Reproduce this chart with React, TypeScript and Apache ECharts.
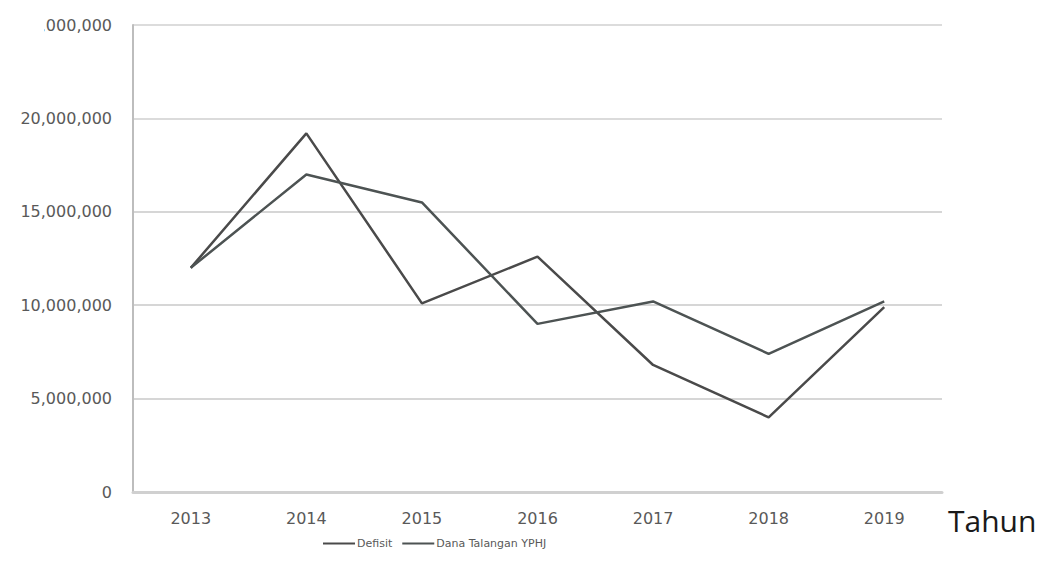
import React, { useEffect, useRef } from "react";
import * as echarts from "echarts";

const years = ["2013", "2014", "2015", "2016", "2017", "2018", "2019"];
const defisit = [12000000, 19200000, 10100000, 12600000, 6800000, 4000000, 9900000];
const danaTalangan = [12000000, 17000000, 15500000, 9000000, 10200000, 7400000, 10200000];
const seriesNames = ["Defisit", "Dana Talangan YPHJ"];
const axisTitle = "Tahun";

export default function App() {
  const ref = useRef<HTMLDivElement>(null);
  useEffect(() => {
    document.body.style.margin = "0";
    const chart = echarts.init(ref.current!, undefined, { renderer: "svg" });
    const font = "DejaVu Sans";
    chart.setOption({
      animation: false,
      backgroundColor: "#ffffff",
      grid: { left: 133, right: 108, top: 25, bottom: 91 },
      legend: {
        data: seriesNames,
        bottom: 29,
        left: 318,
        icon: "rect",
        itemWidth: 32,
        itemHeight: 2,
        itemGap: 10,
        textStyle: { fontFamily: font, fontSize: 11, color: "#595959", padding: [0, 0, 0, -3] },
      },
      xAxis: {
        type: "category",
        data: years,
        boundaryGap: true,
        axisLine: { show: true, lineStyle: { color: "#d0d0d0", width: 3 } },
        axisTick: { show: false },
        axisLabel: { fontFamily: font, fontSize: 16, color: "#595959", margin: 18 },
      },
      yAxis: {
        type: "value",
        min: 0,
        max: 25000000,
        interval: 5000000,
        axisLine: { show: true, lineStyle: { color: "#bdbdbd", width: 2 } },
        axisTick: { show: false },
        splitLine: { show: true, lineStyle: { color: ["#d9d9d9", "#c8c8c8", "#c8c8c8", "#c8c8c8", "#cfcfcf", "#d0d0d0"], width: 1.5 } },
        axisLabel: {
          fontFamily: font,
          fontSize: 16,
          color: "#595959",
          margin: 21,
          formatter: (v: number) => v.toLocaleString("en-US"),
        },
      },
      series: [
        {
          name: seriesNames[0],
          type: "line",
          data: defisit,
          symbol: "none",
          lineStyle: { color: "#4a4a4a", width: 2.5 },
          itemStyle: { color: "#4a4a4a" },
        },
        {
          name: seriesNames[1],
          type: "line",
          data: danaTalangan,
          symbol: "none",
          lineStyle: { color: "#4d5353", width: 2.5 },
          itemStyle: { color: "#4d5353" },
        },
      ],
      graphic: [
        { type: "rect", left: 0, top: 0, shape: { width: 44, height: 33 }, style: { fill: "#ffffff" }, z: 100 },
        {
          type: "text",
          left: 948,
          top: 505,
          style: { text: axisTitle, fontFamily: "Open Sans", fontSize: 30, fill: "#1a1a1a" },
          z: 100,
        },
      ],
    });
    return () => chart.dispose();
  }, []);
  return <div ref={ref} style={{ width: 1050, height: 583 }} />;
}
